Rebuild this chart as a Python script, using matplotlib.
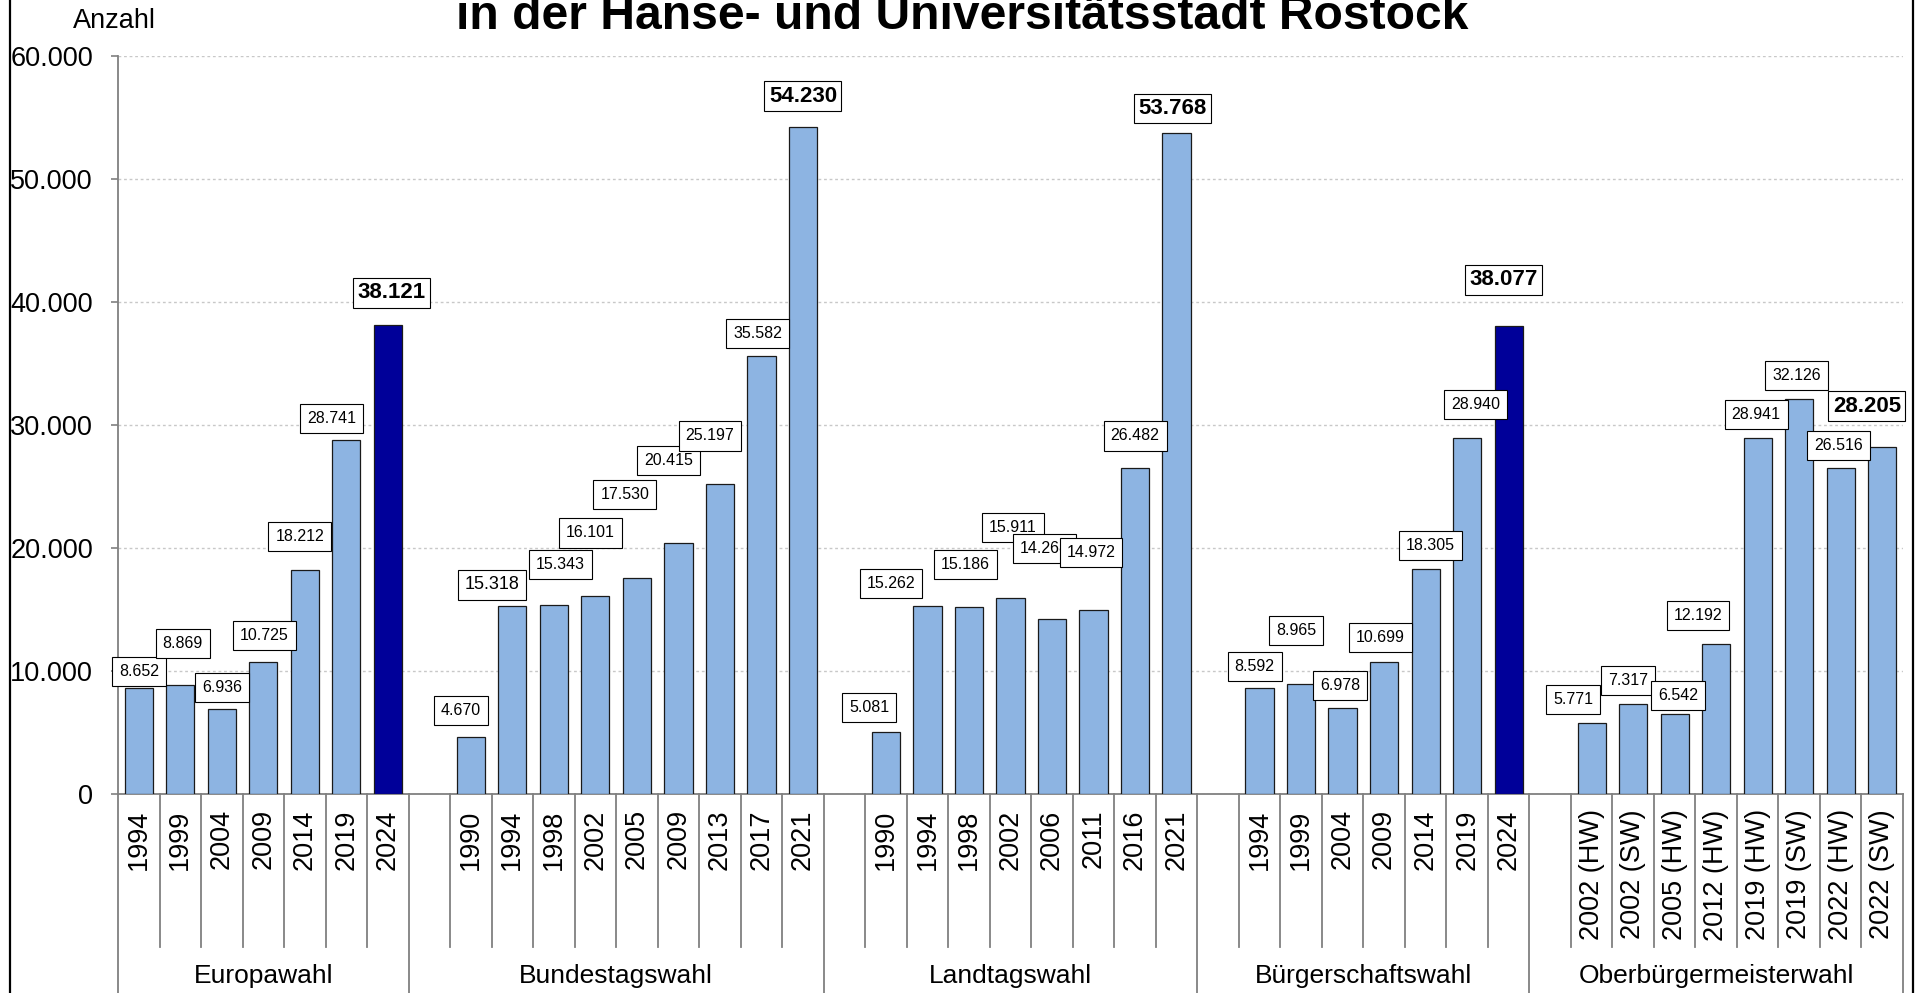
import matplotlib
matplotlib.use("Agg")
import matplotlib.pyplot as plt
import matplotlib.transforms as mtransforms
from matplotlib.lines import Line2D

plt.rcParams['font.family'] = ['Liberation Sans', 'DejaVu Sans']

# Data: Wähler je Wahl in der Hanse- und Universitätsstadt Rostock
groups = ['Europawahl', 'Bundestagswahl', 'Landtagswahl', 'Bürgerschaftswahl', 'Oberbürgermeisterwahl']

eu_years = ['1994', '1999', '2004', '2009', '2014', '2019', '2024']
eu_vals = [8652, 8869, 6936, 10725, 18212, 28741, 38121]

btw_years = ['1990', '1994', '1998', '2002', '2005', '2009', '2013', '2017', '2021']
btw_vals = [4670, 15318, 15343, 16101, 17530, 20415, 25197, 35582, 54230]

ltw_years = ['1990', '1994', '1998', '2002', '2006', '2011', '2016', '2021']
ltw_vals = [5081, 15262, 15186, 15911, 14268, 14972, 26482, 53768]

bsw_years = ['1994', '1999', '2004', '2009', '2014', '2019', '2024']
bsw_vals = [8592, 8965, 6978, 10699, 18305, 28940, 38077]

obw_years = ['2002 (HW)', '2002 (SW)', '2005 (HW)', '2012 (HW)', '2019 (HW)',
             '2019 (SW)', '2022 (HW)', '2022 (SW)']
obw_vals = [5771, 7317, 6542, 12192, 28941, 32126, 26516, 28205]

all_years = [eu_years, btw_years, ltw_years, bsw_years, obw_years]
all_vals = [eu_vals, btw_vals, ltw_vals, bsw_vals, obw_vals]
dark_groups = [0, 3]   # current election highlighted

# label placement (manually moved labels in the original): x shift in slots, y centre in data units
lab_dx = [
    [0.0, 0.06, 0.0, 0.03, -0.12, -0.35, 0.09],
    [-0.24, -0.50, 0.16, -0.12, -0.29, -0.24, -0.24, -0.09, 0.0],
    [-0.41, -0.88, -0.09, 0.06, -0.18, -0.06, 0.0, -0.09],
    [-0.12, -0.12, -0.06, -0.09, 0.12, 0.21, -0.12],
    [-0.44, -0.12, 0.09, -0.44, -0.04, -0.06, -0.06, -0.37],
]
lab_y = [
    [9934, 12219, 8642, 12914, 20960, 30497, 40732],
    [6755, 16992, 18640, 21220, 24338, 27119, 29106, 37450, 56722],
    [7053, 17086, 18675, 21656, 19967, 19669, 29106, 55728],
    [10331, 13311, 8841, 12715, 20166, 31689, 41821],
    [7649, 9238, 7997, 14503, 30835, 34004, 28371, 31510],
]

light = '#8DB4E2'
dark = '#000099'
gray = '#808080'

fig = plt.figure(figsize=(19.16, 9.93), dpi=100)
ax = fig.add_axes([118 / 1916, 199 / 993, 1785 / 1916, 738 / 993])

centers, tick_labels, group_bounds = [], [], [0]
slot = 0
for g, (yrs, vals) in enumerate(zip(all_years, all_vals)):
    if g > 0:
        slot += 1  # leeres Feld am Anfang der Gruppe
    for k, (yr, v) in enumerate(zip(yrs, vals)):
        x = slot + 0.5
        last = k == len(vals) - 1
        col = dark if (last and g in dark_groups) else light
        ax.bar(x, v, width=0.68, color=col, edgecolor='#1a1a1a', linewidth=0.9, zorder=3)
        txt = f"{v:,}".replace(',', '.')
        if last:
            fs, fw, pad = 16, 'bold', 0.2
        elif g == 1 and k == 1:
            fs, fw, pad = 13, 'normal', 0.36
        else:
            fs, fw, pad = 11.5, 'normal', 0.44
        ax.text(x + lab_dx[g][k], lab_y[g][k], txt, ha='center', va='center',
                fontsize=fs, fontweight=fw, zorder=5,
                bbox=dict(boxstyle=f'square,pad={pad}', fc='white', ec='black', lw=0.8))
        centers.append(x)
        tick_labels.append(yr)
        slot += 1
    group_bounds.append(slot)

nslots = slot
ax.set_xlim(0, nslots)
ax.set_ylim(0, 60000)

# y axis
yt = list(range(0, 60001, 10000))
ax.set_yticks(yt)
ax.set_yticklabels([f"{v:,}".replace(',', '.') for v in yt], fontsize=19.5)
ax.tick_params(axis='y', direction='out', length=5, width=1.2, color=gray, pad=13)
ax.yaxis.grid(True, color='#c8c8c8', linestyle=(0, (2, 2)), linewidth=1, zorder=0)
ax.set_axisbelow(True)

# x axis labels
ax.set_xticks(centers)
ax.set_xticklabels(tick_labels, rotation=90, fontsize=19.5, va='top')
ax.tick_params(axis='x', length=0, pad=11)

for s in ['top', 'right']:
    ax.spines[s].set_visible(False)
for s in ['left', 'bottom']:
    ax.spines[s].set_color(gray)
    ax.spines[s].set_linewidth(1.3)

# category separators and group separators below the axis
trans = mtransforms.blended_transform_factory(ax.transData, ax.transAxes)
for b in range(nslots + 1):
    y_end = -0.28 if b in group_bounds else -0.2073
    ax.plot([b, b], [0, y_end], color=gray, lw=1.3, transform=trans, clip_on=False)

for g, name in enumerate(groups):
    mid = (group_bounds[g] + group_bounds[g + 1]) / 2
    ax.text(mid, -0.2466, name, transform=trans, ha='center', va='center', fontsize=19)

# titles
fig.text(73 / 1916, 1 - 28 / 993, 'Anzahl', ha='left', va='baseline', fontsize=19.5)
fig.text(962 / 1916, 1 - 29 / 993, 'in der Hanse- und Universitätsstadt Rostock',
         ha='center', va='baseline', fontsize=34.6, fontweight='bold')

# outer frame (left and right edges visible)
for xf in [10 / 1916, 1913 / 1916]:
    fig.add_artist(Line2D([xf, xf], [0, 1], color='black', lw=1.6, transform=fig.transFigure))

fig.savefig('out.png', dpi=100)
